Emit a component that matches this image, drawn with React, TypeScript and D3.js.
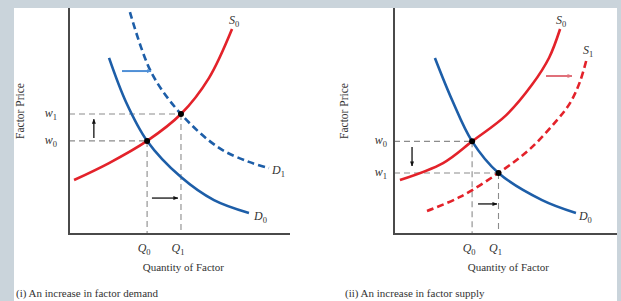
import React from 'react';
import * as d3 from 'd3';

type Pt = [number, number];

// Panel (i): an increase in factor demand (quantity, price in chart units 0..100)
const supplyA: Pt[] = [[2.3, 23.9], [18.2, 31.4], [35.5, 41.2], [50.9, 53.1], [63.6, 69.0], [74.1, 90.7]];
const demandA0: Pt[] = [[18.2, 77.9], [25.9, 58.4], [35.5, 41.2], [50.9, 25.2], [65.9, 15.0], [81.8, 9.3]];
const demandA1: Pt[] = [[27.7, 98.2], [37.3, 71.7], [50.9, 53.1], [68.2, 38.1], [81.8, 31.9], [90.9, 29.2]];
const equilibriaA: Pt[] = [[35.5, 41.2], [50.9, 53.1]];
const priceLabelsA = ['0', '1'];
const qtyLabelsA = ['0', '1'];

// Panel (ii): an increase in factor supply
const supplyB0: Pt[] = [[2.7, 23.9], [22.3, 31.4], [35.5, 41.0], [50.9, 52.5], [62.7, 66.0], [70.5, 78.0], [75.5, 90.7]];
const supplyB1: Pt[] = [[15.0, 10.2], [30.0, 16.4], [47.5, 27.0], [61.8, 37.6], [74.1, 50.4], [80.0, 57.9], [84.5, 67.3], [87.7, 77.9]];
const demandB0: Pt[] = [[18.6, 77.9], [26.4, 59.3], [35.5, 41.0], [47.5, 27.0], [67.3, 15.0], [82.7, 9.3]];
const equilibriaB: Pt[] = [[35.5, 41.0], [47.5, 27.0]];
const priceLabelsB = ['0', '1'];
const qtyLabelsB = ['0', '1'];

const RED = '#e3222a';
const BLUE = '#1d5ea8';
const AXIS = '#4a4a4a';
const GRID = '#8c8c8c';
const TEXT = '#333';
const SERIF = '"Liberation Serif", "DejaVu Serif", serif';

const yScale = d3.scaleLinear().domain([0, 100]).range([234, 8]);

interface Curve { pts: Pt[]; color: string; dashed?: boolean; label: [string, string]; dx: number; dy: number }
interface Arrow { from: Pt; to: Pt; marker: string; color: string; width: number }

interface PanelProps {
  x0: number;
  axisEnd: number;
  curves: Curve[];
  eq: Pt[];
  priceLabels: string[];
  qtyLabels: string[];
  arrows: Arrow[];
  wGap: number;
  caption: string;
  captionX: number;
  yTitleX: number;
}

const Sub = ({ x, y, base, sub, anchor = 'start' }: { x: number; y: number; base: string; sub: string; anchor?: string }) => (
  <text x={x} y={y} fontFamily={SERIF} fontStyle="italic" fontSize={12} fill={TEXT} textAnchor={anchor}>
    {base}
    <tspan dy={3} fontSize={8.5} fontStyle="normal">{sub}</tspan>
  </text>
);

const Panel = (p: PanelProps) => {
  const x = d3.scaleLinear().domain([0, 100]).range([p.x0, p.x0 + 220]);
  const line = d3.line<Pt>().x(d => x(d[0])).y(d => yScale(d[1])).curve(d3.curveCatmullRom.alpha(0.5));
  const ax = x(0);
  const ay = yScale(0);
  return (
    <g>
      {/* dashed guide lines */}
      {p.eq.map((e, i) => (
        <g key={i}>
          <line x1={ax} x2={x(e[0])} y1={yScale(e[1])} y2={yScale(e[1])} stroke={GRID} strokeWidth={1.1} strokeDasharray="6,4" />
          <line x1={x(e[0])} x2={x(e[0])} y1={yScale(e[1])} y2={ay} stroke={GRID} strokeWidth={1.1} strokeDasharray="6,4" />
        </g>
      ))}
      {p.curves.map((c, i) => (
        <path key={i} d={line(c.pts) || ''} fill="none" stroke={c.color} strokeWidth={2.6}
          strokeDasharray={c.dashed ? '7,4' : undefined} />
      ))}
      {p.arrows.map((a, i) => (
        <line key={i} x1={x(a.from[0])} y1={yScale(a.from[1])} x2={x(a.to[0])} y2={yScale(a.to[1])}
          stroke={a.color} strokeWidth={a.width} markerEnd={`url(#${a.marker})`} />
      ))}
      {p.eq.map((e, i) => (
        <circle key={i} cx={x(e[0])} cy={yScale(e[1])} r={3} fill="#000" />
      ))}
      {/* axes */}
      <line x1={ax} x2={ax} y1={yScale(100)} y2={ay + 1} stroke={AXIS} strokeWidth={2} />
      <line x1={ax} x2={p.axisEnd} y1={ay} y2={ay} stroke={AXIS} strokeWidth={2} />
      {/* tick labels */}
      {p.eq.map((e, i) => (
        <Sub key={'w' + i} x={ax - p.wGap} y={yScale(e[1]) + 3} base="w" sub={p.priceLabels[i]} anchor="end" />
      ))}
      {p.eq.map((e, i) => (
        <Sub key={'q' + i} x={x(e[0]) - 3} y={252} base="Q" sub={p.qtyLabels[i]} anchor="middle" />
      ))}
      {p.curves.map((c, i) => {
        const end = c.pts[c.pts.length - 1];
        return <Sub key={'c' + i} x={x(end[0]) + c.dx} y={yScale(end[1]) + c.dy} base={c.label[0]} sub={c.label[1]} />;
      })}
      <text x={x(52)} y={271} textAnchor="middle" fontFamily={SERIF} fontSize={11} fill={TEXT}>Quantity of Factor</text>
      <text transform={`translate(${p.yTitleX},111) rotate(-90)`} textAnchor="middle" fontFamily={SERIF} fontSize={11.5} fill={TEXT}>Factor Price</text>
      <text x={p.captionX} y={297} fontFamily={SERIF} fontSize={11} fill={TEXT}>{p.caption}</text>
    </g>
  );
};

const Marker = ({ id, color }: { id: string; color: string }) => (
  <marker id={id} viewBox="0 0 10 10" refX={9} refY={5} markerWidth={5} markerHeight={5} orient="auto" markerUnits="userSpaceOnUse">
    <path d="M0,1 L10,5 L0,9 Z" fill={color} />
  </marker>
);

export default function App() {
  return (
    <svg width={621} height={301} style={{ position: 'absolute', left: 0, top: 0 }}>
      <defs>
        <Marker id="mk-black" color="#111" />
        <Marker id="mk-blue" color="#4f8fd6" />
        <Marker id="mk-pink" color="#e0707a" />
      </defs>
      <rect x={0} y={0} width={621} height={301} fill="#cad4db" />
      <rect x={14} y={8} width={603} height={293} fill="#fff" />
      <Panel
        x0={69}
        axisEnd={290}
        curves={[
          { pts: supplyA, color: RED, label: ['S', '0'], dx: -3, dy: -5 },
          { pts: demandA0, color: BLUE, label: ['D', '0'], dx: 5, dy: 7 },
          { pts: demandA1, color: BLUE, dashed: true, label: ['D', '1'], dx: 3, dy: 6 },
        ]}
        eq={equilibriaA}
        priceLabels={priceLabelsA}
        qtyLabels={qtyLabelsA}
        arrows={[
          { from: [24.1, 72.1], to: [37.3, 72.1], marker: 'mk-blue', color: '#4f8fd6', width: 2 },
          { from: [11.3, 42.5], to: [11.3, 50.8], marker: 'mk-black', color: '#111', width: 1.3 },
          { from: [37.7, 15.9], to: [49.5, 15.9], marker: 'mk-black', color: '#111', width: 1.3 },
        ]}
        wGap={12}
        caption="(i) An increase in factor demand"
        captionX={16}
        yTitleX={24}
      />
      <Panel
        x0={394}
        axisEnd={617}
        curves={[
          { pts: supplyB0, color: RED, label: ['S', '0'], dx: -4, dy: -5 },
          { pts: supplyB1, color: RED, dashed: true, label: ['S', '1'], dx: -4, dy: -4 },
          { pts: demandB0, color: BLUE, label: ['D', '0'], dx: 3, dy: 7 },
        ]}
        eq={equilibriaB}
        priceLabels={priceLabelsB}
        qtyLabels={qtyLabelsB}
        arrows={[
          { from: [69.1, 69.9], to: [80.9, 69.9], marker: 'mk-pink', color: '#e0707a', width: 2 },
          { from: [8.2, 38.5], to: [8.2, 30.1], marker: 'mk-black', color: '#111', width: 1.3 },
          { from: [38.2, 13.3], to: [46.8, 13.3], marker: 'mk-black', color: '#111', width: 1.3 },
        ]}
        wGap={7}
        caption="(ii) An increase in factor supply"
        captionX={345}
        yTitleX={348}
      />
    </svg>
  );
}
